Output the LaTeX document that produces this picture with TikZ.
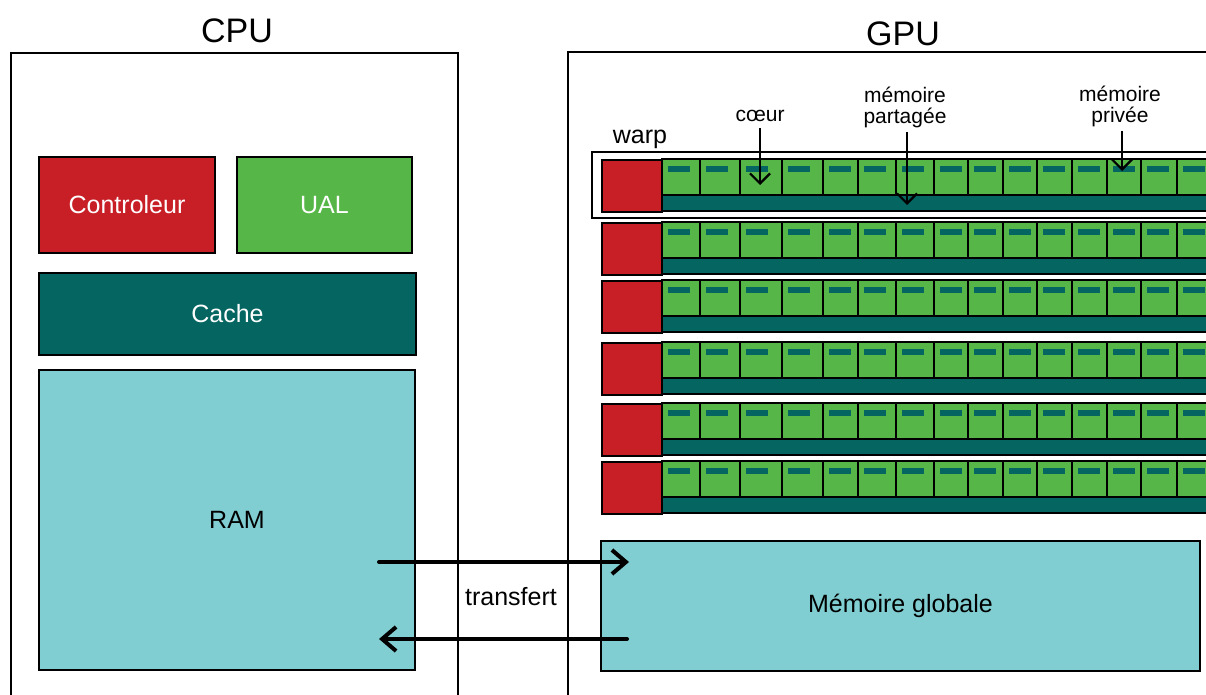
\documentclass[tikz,border=0pt]{standalone}
\usepackage{fontspec}
\setmainfont{Liberation Sans}
\usepackage{xcolor}
\usetikzlibrary{arrows.meta}

\definecolor{ctrlred}{RGB}{200,31,39}
\definecolor{coregreen}{RGB}{86,183,72}
\definecolor{cacheteal}{RGB}{4,101,97}
\definecolor{memcyan}{RGB}{129,206,210}

\begin{document}
\begin{tikzpicture}[x=0.5pt, y=-0.5pt,
    box/.style={draw=black, line width=0.8pt, inner sep=0pt},
    titlefont/.style={font=\fontsize{17}{20}\selectfont},
    blockfont/.style={font=\fontsize{12.5}{15}\selectfont},
    smallfont/.style={font=\fontsize{10.5}{10.5}\selectfont, align=center, inner sep=0pt},
    transfer/.style={-{Straight Barb[length=7pt, width=12pt]}, line width=2pt, line cap=round},
    pointer/.style={-{Straight Barb[length=5pt, width=10pt]}, line width=1.1pt}]
    \clip (0,0) rectangle (1206,695);

    % CPU side
    \node[box, minimum width=223.5pt, minimum height=343.5pt] (cpu) at (234.5,396.5) {};
    \node[titlefont] (cputitle) at (237,31) {CPU};
    \node[box, blockfont, fill=ctrlred, text=white, minimum width=88pt, minimum height=48pt] (ctrl) at (127,205) {Controleur};
    \node[box, blockfont, fill=coregreen, text=white, minimum width=87.5pt, minimum height=48pt] (ual) at (324.5,205) {UAL};
    \node[box, blockfont, fill=cacheteal, text=white, minimum width=188.5pt, minimum height=41pt] (cache) at (227.5,314) {Cache};
    \node[box, blockfont, fill=memcyan, minimum width=188pt, minimum height=150pt] (ram) at (227,520) {\hspace{10pt}RAM};

    % GPU side
    \node[box, minimum width=341pt, minimum height=344pt] (gpu) at (909,396) {};
    \node[titlefont] (gputitle) at (903,34) {GPU};
    \draw[line width=0.8pt, fill=white] (592,152) rectangle (1260,218);

    \foreach \i/\y in {1/159,2/222,3/280,4/342,5/403,6/461} {
        \node[box, fill=ctrlred, minimum width=30pt, minimum height=26pt, anchor=north west] (sm\i) at (601,\y) {};
        \draw[line width=0.8pt, fill=cacheteal] (662,\y+36) rectangle (1260,\y+52);
        \foreach \a/\b in {662/700,700/740,740/782,782/823,823/858,858/896,896/934,934/968,
                           968/1003,1003/1037,1037/1072,1072/1107,1107/1141,1141/1177,1177/1214} {
            \draw[line width=0.6pt, fill=coregreen] (\a,\y) rectangle (\b,\y+36);
            \fill[cacheteal] (\a+6,\y+7) rectangle (\a+28,\y+13);
        }
    }

    \node[box, blockfont, fill=memcyan, minimum width=299.5pt, minimum height=65pt] (global) at (900.5,606) {Mémoire globale};

    % labels
    \node[blockfont] (warplbl) at (640,139) {warp};
    \node[smallfont] (coeur) at (760,116) {cœur};
    \node[smallfont] (partagee) at (905,107) {mémoire\\partagée};
    \node[smallfont] (privee) at (1120,106) {mémoire\\privée};
    \coordinate (coretip) at (760,185);
    \coordinate (sharedtip) at (907,205);
    \coordinate (privtip) at (1122,171);
    \draw[pointer] (coeur.south -| coretip) ++(0,6) -- (coretip);
    \draw[pointer] (partagee.south -| sharedtip) ++(0,4) -- (sharedtip);
    \draw[pointer] (privee.south -| privtip) ++(0,4) -- (privtip);

    % transfers
    \coordinate (ramout) at (379,562);
    \coordinate (globin) at (629,562);
    \coordinate (globout) at (627,639);
    \coordinate (ramin) at (379,639);
    \draw[transfer] (ramout) -- (globin);
    \draw[transfer] (globout) -- (ramin);
    \node[blockfont] (transfert) at (511,597) {transfert};
\end{tikzpicture}
\end{document}
